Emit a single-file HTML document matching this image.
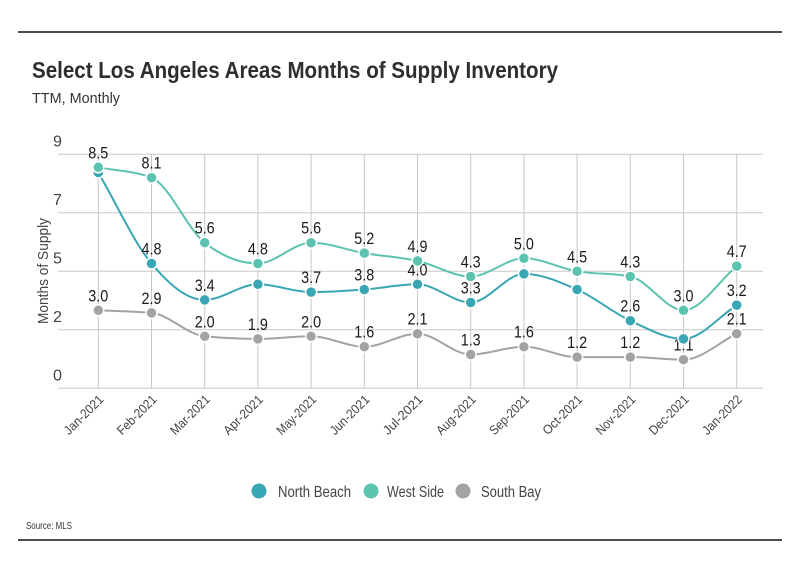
<!DOCTYPE html>
<html><head><meta charset="utf-8"><style>
body{margin:0;background:#fff;}
svg{display:block;font-family:"Liberation Sans",sans-serif;}
</style></head><body>
<svg id="chart" width="800" height="575" viewBox="0 0 800 575">
<line x1="18" y1="32" x2="782" y2="32" stroke="#111" stroke-width="1.5"/>
<line x1="18" y1="540" x2="782" y2="540" stroke="#111" stroke-width="1.5"/>
<text x="32" y="78" font-size="23" font-weight="bold" fill="#2e2e2e" textLength="526" lengthAdjust="spacingAndGlyphs">Select Los Angeles Areas Months of Supply Inventory</text>
<text x="32" y="103" font-size="15" fill="#333" textLength="88" lengthAdjust="spacingAndGlyphs">TTM, Monthly</text>
<text transform="translate(48,271) rotate(-90)" text-anchor="middle" font-size="15" fill="#444" textLength="106" lengthAdjust="spacingAndGlyphs">Months of Supply</text>
<text x="26" y="529" font-size="10" fill="#333" textLength="46" lengthAdjust="spacingAndGlyphs">Source: MLS</text>
<g id="grid"></g><g id="lines"></g><g id="pts"></g><g id="xl"></g><g id="legend"></g>
</svg>
<script>
const categories=["Jan-2021","Feb-2021","Mar-2021","Apr-2021","May-2021","Jun-2021","Jul-2021","Aug-2021","Sep-2021","Oct-2021","Nov-2021","Dec-2021","Jan-2022"];
const northBeach=[8.3,4.8,3.4,4.0,3.7,3.8,4.0,3.3,4.4,3.8,2.6,1.9,3.2];
const northBeachShowLabel=[false,true,true,false,true,true,true,true,false,false,true,false,true];
const westSide=[8.5,8.1,5.6,4.8,5.6,5.2,4.9,4.3,5.0,4.5,4.3,3.0,4.7];
const southBay=[3.0,2.9,2.0,1.9,2.0,1.6,2.1,1.3,1.6,1.2,1.2,1.1,2.1];
const yTicks=[0,2.25,4.5,6.75,9];
const yTickLabels=["0","2","5","7","9"];
const seriesNames=["North Beach","West Side","South Bay"];

const NS="http://www.w3.org/2000/svg";
const x0=98.3,x1=736.7,yb=388.3,yt=154.3,ymax=9;
const xS=i=>x0+(x1-x0)*i/(categories.length-1);
const yS=v=>yb-(yb-yt)*v/ymax;
function mk(t,a,p){const e=document.createElementNS(NS,t);for(const k in a)e.setAttribute(k,a[k]);p.appendChild(e);return e;}
const grid=document.getElementById('grid');
yTicks.forEach((v,i)=>{
  const l=mk('line',{x1:58,x2:763,y1:yS(v),y2:yS(v),stroke:'#c8c8c8','stroke-width':1},grid);
  
  
  const t=mk('text',{x:62,y:yS(v)-8,'font-size':16,fill:'#444','text-anchor':'end',textLength:9,lengthAdjust:'spacingAndGlyphs'},grid);
  t.textContent=yTickLabels[i];
  
  
});
categories.forEach((c,i)=>{
  const l=mk('line',{x1:xS(i),x2:xS(i),y1:yt,y2:yb,stroke:'#c8c8c8','stroke-width':1},grid);
  
  
  const t=mk('text',{transform:`translate(${xS(i)+6},${yb+12}) rotate(-45)`,'font-size':13,fill:'#444','text-anchor':'end',textLength:50,lengthAdjust:'spacingAndGlyphs'},document.getElementById('xl'));
  t.textContent=c;
  
  
});
function monoPath(pts){
  const n=pts.length,dx=[],m=[],t=[];
  for(let i=0;i<n-1;i++){dx[i]=pts[i+1][0]-pts[i][0];m[i]=(pts[i+1][1]-pts[i][1])/dx[i];}
  t[0]=m[0];t[n-1]=m[n-2];
  for(let i=1;i<n-1;i++){if(m[i-1]*m[i]<=0)t[i]=0;else{const h0=dx[i-1],h1=dx[i];t[i]=(m[i-1]*h1+m[i]*h0)/(h0+h1);const mn=2*Math.min(Math.abs(m[i-1]),Math.abs(m[i]));if(Math.abs(t[i])>mn)t[i]=Math.sign(t[i])*mn;}}
  let d=`M${pts[0][0]},${pts[0][1]}`;
  for(let i=0;i<n-1;i++){const h=dx[i]/3;d+=`C${pts[i][0]+h},${pts[i][1]+t[i]*h} ${pts[i+1][0]-h},${pts[i+1][1]-t[i+1]*h} ${pts[i+1][0]},${pts[i+1][1]}`;}
  return d;
}
const series=[
 {name:'south-bay',data:southBay,color:'#a3a3a3',show:southBay.map(()=>true)},
 {name:'north-beach',data:northBeach,color:'#39a6b4',show:northBeachShowLabel},
 {name:'west-side',data:westSide,color:'#5cc3b1',show:westSide.map(()=>true)}
];
series.forEach(s=>{
  const pts=s.data.map((v,i)=>[xS(i),yS(v)]);
  const p=mk('path',{d:monoPath(pts),fill:'none',stroke:s.color,'stroke-width':2},document.getElementById('lines'));
  
  
  s.data.forEach((v,i)=>{
    const c=mk('circle',{cx:xS(i),cy:yS(v),r:5.5,fill:s.color,stroke:'#fff','stroke-width':1.5},document.getElementById('pts'));
    
    
    if(s.show[i]){
      const t=mk('text',{x:xS(i),y:yS(v)-9,'font-size':17,fill:'#1a1a1a','text-anchor':'middle',textLength:20,lengthAdjust:'spacingAndGlyphs'},document.getElementById('pts'));
      t.textContent=v.toFixed(1);
      
      
    }
  });
});
const lg=document.getElementById('legend');
const legX=[259,371,463],legTX=[278,387,481],legW=[73,57,60],legC=['#39a6b4','#5cc3b1','#a3a3a3'];
seriesNames.forEach((n,i)=>{
  const g=mk('g',{},lg);
  
  
  mk('circle',{cx:legX[i],cy:491,r:7.5,fill:legC[i]},g);
  const t=mk('text',{x:legTX[i],y:497,'font-size':16,fill:'#444',textLength:legW[i],lengthAdjust:'spacingAndGlyphs'},g);
  t.textContent=n;
});
</script>
</body></html>
